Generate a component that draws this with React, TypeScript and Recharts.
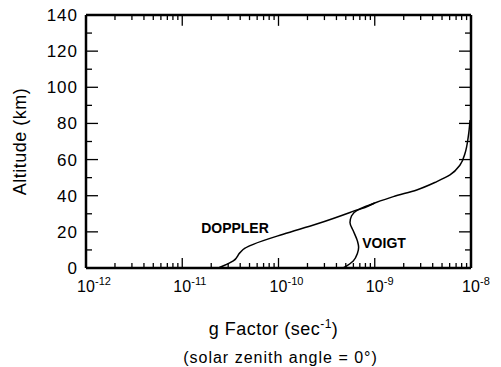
import React from 'react';
import { LineChart, Line, XAxis, YAxis, ReferenceDot, ReferenceLine, Label } from 'recharts';

// g factor (sec^-1) vs altitude (km)
const dopplerG = [2.37e-11, 3.39e-11, 3.98e-11, 4.49e-11, 5.47e-11, 1.12e-10, 2.49e-10, 5.53e-10, 1.0e-9, 1.56e-9, 2.73e-9, 4.41e-9, 6.05e-9, 7.69e-9, 8.67e-9, 9.37e-9, 9.78e-9];
const dopplerAlt = [0, 3.9, 8.5, 11, 13.1, 18.7, 24.3, 30.7, 36, 39.5, 43.2, 47.8, 51.5, 57, 63.5, 72.7, 81.9];

const voigtG = [4.71e-10, 5.98e-10, 6.6e-10, 6.8e-10, 6.6e-10, 5.98e-10, 5.53e-10, 5.75e-10, 6.49e-10, 8.24e-10, 1.0e-9];
const voigtAlt = [0, 3.9, 8, 11.5, 15, 20.6, 25.2, 28.9, 31.7, 33.9, 36];

const xMajorTicks = [1e-12, 1e-11, 1e-10, 1e-9, 1e-8];
const xMinorMultipliers = [2, 3, 4, 5, 6, 7, 8, 9];
const yTicks = [0, 10, 20, 30, 40, 50, 60, 70, 80, 90, 100, 110, 120, 130, 140];
const yLabelTicks = [0, 20, 40, 60, 80, 100, 120, 140];

const doppler = dopplerG.map((g, i) => ({ g, alt: dopplerAlt[i] }));
const voigt = voigtG.map((g, i) => ({ g, alt: voigtAlt[i] }));

const xTicks: number[] = [];
xMajorTicks.forEach((m, i) => {
  xTicks.push(m);
  if (i < xMajorTicks.length - 1) {
    xMinorMultipliers.forEach((k) => xTicks.push(Number((k * m).toPrecision(3))));
  }
});

const BottomTick = (props: any) => {
  const { x, y, payload } = props;
  const major = xMajorTicks.includes(payload.value);
  const exp = Math.round(Math.log10(payload.value));
  return (
    <g>
      <line x1={x} x2={x} y1={y} y2={y - (major ? 10 : 5)} stroke="#000" strokeWidth={1.3} />
      {major && (
        <>
          <text x={x} y={y + 24} textAnchor="middle" fontSize={16} fill="#000">10</text>
          <text x={x + 9} y={y + 17} textAnchor="start" fontSize={11} fill="#000">{String(exp)}</text>
        </>
      )}
    </g>
  );
};

const LeftTick = (props: any) => {
  const { x, y, payload } = props;
  const major = yLabelTicks.includes(payload.value);
  return (
    <g>
      <line x1={x} x2={x + (major ? 12 : 6)} y1={y} y2={y} stroke="#000" strokeWidth={1.3} />
      {major && (
        <text x={x - 8} y={y + 6} textAnchor="end" fontSize={17} letterSpacing={1} fill="#000">
          {payload.value}
        </text>
      )}
    </g>
  );
};

const RightTick = (props: any) => {
  const { x, y, payload } = props;
  const major = yLabelTicks.includes(payload.value);
  return <line x1={x} x2={x - (major ? 12 : 6)} y1={y} y2={y} stroke="#000" strokeWidth={1.3} />;
};

const YTitle = (props: any) => {
  const { viewBox } = props;
  const cx = viewBox.x + 26;
  const cy = viewBox.y + viewBox.height / 2;
  return (
    <text x={cx} y={cy} transform={`rotate(-90 ${cx} ${cy})`} textAnchor="middle" fontSize={18} letterSpacing={0.5} fill="#000">
      Altitude (km)
    </text>
  );
};

const XTitle = (props: any) => {
  const { viewBox } = props;
  const cx = viewBox.x + viewBox.width / 2;
  return (
    <g>
      <text x={cx - 5} y={viewBox.y + 67} textAnchor="middle" fontSize={18} letterSpacing={0.5} fill="#000">
        <tspan>g Factor  (sec</tspan>
        <tspan dy={-7} fontSize={12}>-1</tspan>
        <tspan dy={7}>)</tspan>
      </text>
      <text x={cx + 2} y={viewBox.y + 95} textAnchor="middle" fontSize={16} letterSpacing={1} fill="#000">
        (solar  zenith  angle = 0°)
      </text>
    </g>
  );
};

export default function App() {
  return (
    <div style={{ position: 'absolute', left: 0, top: 0, width: 501, height: 367, background: '#fff', fontFamily: '"Liberation Sans", Arial, sans-serif' }}>
      <LineChart width={501} height={367} margin={{ top: 14, right: 29, bottom: 0, left: 0 }}>
        <XAxis
          dataKey="g"
          type="number"
          scale="log"
          domain={[1e-12, 1e-8]}
          allowDataOverflow
          ticks={xTicks}
          interval={0}
          tick={<BottomTick />}
          tickLine={false}
          tickSize={0}
          tickMargin={0}
          height={99}
          axisLine={{ stroke: '#000', strokeWidth: 2.5 }}
        >
          <Label content={<XTitle />} />
        </XAxis>
        <XAxis
          xAxisId="top"
          orientation="top"
          dataKey="g"
          type="number"
          scale="log"
          domain={[1e-12, 1e-8]}
          allowDataOverflow
          ticks={xTicks}
          interval={0}
          tick={false}
          tickLine={false}
          tickSize={0}
          tickMargin={0}
          height={1}
          axisLine={{ stroke: '#000', strokeWidth: 2.5 }}
        />
        <YAxis
          dataKey="alt"
          type="number"
          domain={[0, 140]}
          ticks={yTicks}
          interval={0}
          tick={<LeftTick />}
          tickLine={false}
          tickSize={0}
          tickMargin={0}
          width={86}
          axisLine={{ stroke: '#000', strokeWidth: 2.5 }}
        >
          <Label content={<YTitle />} />
        </YAxis>
        <YAxis
          yAxisId="right"
          orientation="right"
          dataKey="alt"
          type="number"
          domain={[0, 140]}
          ticks={yTicks}
          interval={0}
          tick={<RightTick />}
          tickLine={false}
          tickSize={0}
          tickMargin={0}
          width={1}
          axisLine={{ stroke: '#000', strokeWidth: 2.5 }}
        />
        {xTicks.map((t) => (
          <ReferenceLine
            key={t}
            segment={[{ x: t, y: 140 }, { x: t, y: xMajorTicks.includes(t) ? 134 : 137.2 }]}
            stroke="#000"
            strokeWidth={1.3}
            ifOverflow="visible"
          />
        ))}
        <Line data={doppler} xAxisId="top" dataKey="alt" type="monotoneY" stroke="#000" strokeWidth={1.5} dot={false} isAnimationActive={false} />
        <Line data={voigt} yAxisId="right" dataKey="alt" type="monotoneY" stroke="#000" strokeWidth={1.5} dot={false} isAnimationActive={false} />
        <ReferenceDot x={3.53e-11} y={22.1} r={0} stroke="none" fill="none">
          <Label value="DOPPLER" position="center" fontSize={14} fontWeight="bold" fill="#000" />
        </ReferenceDot>
        <ReferenceDot x={1.25e-9} y={13.8} r={0} stroke="none" fill="none">
          <Label value="VOIGT" position="center" fontSize={14} fontWeight="bold" fill="#000" />
        </ReferenceDot>
      </LineChart>
    </div>
  );
}
